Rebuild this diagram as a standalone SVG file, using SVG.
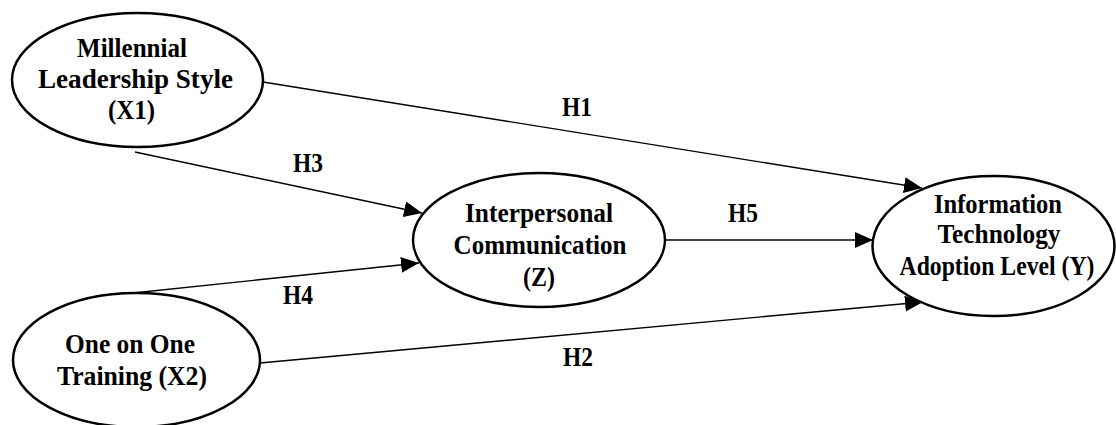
<svg xmlns="http://www.w3.org/2000/svg" width="1116" height="425" viewBox="0 0 1116 425">
  <style>
    .node ellipse { fill: #ffffff; stroke: #000000; stroke-width: 2.5; }
    text { font-family: "Liberation Serif", "Times New Roman", serif; font-weight: bold; font-size: 27px; fill: #000000; text-anchor: middle; }
    .edge { stroke: #000000; stroke-width: 1.4; fill: none; marker-end: url(#arrow); }
  </style>
  <defs>
    <marker id="arrow" markerUnits="userSpaceOnUse" markerWidth="18" markerHeight="16" refX="18" refY="8" orient="auto">
      <path d="M0,0 L18,8 L0,16 Z" fill="#000000"/>
    </marker>
  </defs>
  <rect width="1116" height="425" fill="#ffffff"/>

  <!-- connectors and their hypothesis labels -->
  <g id="connectors">
    <line class="edge" x1="263" y1="82" x2="922" y2="188"/>
    <line class="edge" x1="135" y1="152" x2="422" y2="213"/>
    <line class="edge" x1="133" y1="293" x2="419" y2="263"/>
    <line class="edge" x1="665" y1="240" x2="873" y2="240"/>
    <line class="edge" x1="260" y1="363" x2="923" y2="302"/>
    <text x="577" y="116" textLength="30" lengthAdjust="spacingAndGlyphs">H1</text>
    <text x="308" y="172" textLength="30" lengthAdjust="spacingAndGlyphs">H3</text>
    <text x="298" y="304" textLength="30" lengthAdjust="spacingAndGlyphs">H4</text>
    <text x="743" y="222" textLength="30" lengthAdjust="spacingAndGlyphs">H5</text>
    <text x="578" y="366" textLength="30" lengthAdjust="spacingAndGlyphs">H2</text>
  </g>

  <g id="x1" class="node">
    <ellipse cx="137.5" cy="80" rx="125.5" ry="67"/>
    <text x="132" y="57" textLength="110" lengthAdjust="spacingAndGlyphs">Millennial</text>
    <text x="135.5" y="88" textLength="195" lengthAdjust="spacingAndGlyphs">Leadership Style</text>
    <text x="131.5" y="119" textLength="47" lengthAdjust="spacingAndGlyphs">(X1)</text>
  </g>

  <g id="x2" class="node">
    <ellipse cx="136.5" cy="360" rx="123.5" ry="67"/>
    <text x="130" y="353" textLength="130" lengthAdjust="spacingAndGlyphs">One on One</text>
    <text x="132" y="385" textLength="150" lengthAdjust="spacingAndGlyphs">Training (X2)</text>
  </g>

  <g id="z" class="node">
    <ellipse cx="539" cy="240" rx="126" ry="67"/>
    <text x="539" y="222" textLength="148" lengthAdjust="spacingAndGlyphs">Interpersonal</text>
    <text x="540" y="254" textLength="173" lengthAdjust="spacingAndGlyphs">Communication</text>
    <text x="539" y="286" textLength="32" lengthAdjust="spacingAndGlyphs">(Z)</text>
  </g>

  <g id="y" class="node">
    <ellipse cx="993.5" cy="246" rx="121" ry="70"/>
    <text x="998" y="213" textLength="128" lengthAdjust="spacingAndGlyphs">Information</text>
    <text x="999" y="243" textLength="123" lengthAdjust="spacingAndGlyphs">Technology</text>
    <text x="997" y="275" textLength="195" lengthAdjust="spacingAndGlyphs">Adoption Level (Y)</text>
  </g>
</svg>
